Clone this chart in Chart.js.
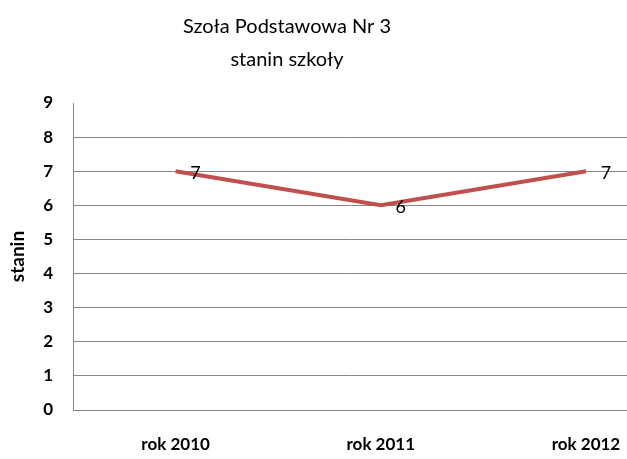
<!DOCTYPE html>
<html>
<head>
<meta charset="utf-8">
<script src="https://cdn.jsdelivr.net/npm/chart.js@4"></script>
<style>
  html, body { margin: 0; padding: 0; background: #fff; }
  #wrap { width: 627px; height: 459px; position: relative; }
</style>
</head>
<body>
<div id="wrap"><canvas id="c"></canvas></div>
<script>
const titleLines = ["Szoła Podstawowa Nr 3", "stanin szkoły"];
const years = ["rok 2010", "rok 2011", "rok 2012"];
const stanin = [7, 6, 7];
const yTicks = [0, 1, 2, 3, 4, 5, 6, 7, 8, 9];

const FONT = "Lato, 'Liberation Sans', sans-serif";

// title is drawn off-centre, like the cropped original
const titlePlugin = {
  id: "offTitle",
  afterDraw(chart) {
    const ctx = chart.ctx;
    ctx.save();
    ctx.fillStyle = "#000";
    ctx.font = "20px " + FONT;
    ctx.textAlign = "center";
    ctx.textBaseline = "middle";
    ctx.fillText(titleLines[0], 287, 27);
    ctx.fillText(titleLines[1], 287, 60);
    ctx.restore();
  }
};

const labelPlugin = {
  id: "pointLabels",
  afterDatasetsDraw(chart) {
    const ctx = chart.ctx;
    const meta = chart.getDatasetMeta(0);
    ctx.save();
    ctx.fillStyle = "#000";
    ctx.font = "18px " + FONT;
    ctx.textAlign = "center";
    ctx.textBaseline = "middle";
    meta.data.forEach((pt, i) => {
      ctx.fillText(String(stanin[i]), pt.x + 20, pt.y + 2);
    });
    ctx.restore();
  }
};

new Chart(document.getElementById("c"), {
  type: "line",
  data: {
    datasets: [{
      data: stanin.map((v, i) => ({ x: i, y: v })),
      borderColor: "#C0504D",
      borderWidth: 4,
      pointRadius: 0,
      tension: 0
    }]
  },
  options: {
    responsive: true,
    maintainAspectRatio: false,
    animation: false,
    layout: { padding: { top: 103, right: 0, bottom: 0, left: 0 } },
    plugins: {
      legend: { display: false },
      tooltip: { enabled: false }
    },
    scales: {
      x: {
        type: "linear",
        min: -0.5,
        max: 2.2,
        afterBuildTicks(scale) {
          scale.ticks = years.map((_, i) => ({ value: i }));
        },
        afterFit(scale) {
          scale.height = 49;
          scale.paddingLeft = 0;
          scale.paddingRight = 0;
        },
        ticks: {
          padding: 24,
          color: "#000",
          font: { family: FONT, size: 17, weight: "bold" },
          callback: (v) => years[v]
        },
        grid: { display: false, drawTicks: false },
        border: { display: true, color: "#868686", width: 1 }
      },
      y: {
        min: 0,
        max: 9,
        afterBuildTicks(scale) {
          scale.ticks = yTicks.map(v => ({ value: v }));
        },
        afterFit(scale) { scale.width = 73; },
        ticks: {
          padding: 20,
          color: "#000",
          font: { family: FONT, size: 17, weight: "bold" }
        },
        grid: {
          drawTicks: false,
          color: (c) => (c.tick && c.tick.value === 9) ? "rgba(0,0,0,0)" : "#868686",
          lineWidth: 1
        },
        border: { display: true, color: "#868686", width: 1 },
        title: {
          display: true,
          text: "stanin",
          color: "#000",
          font: { family: FONT, size: 19, weight: "bold" },
          padding: { top: 6, bottom: 0 }
        }
      }
    }
  },
  plugins: [titlePlugin, labelPlugin]
});
</script>
</body>
</html>
